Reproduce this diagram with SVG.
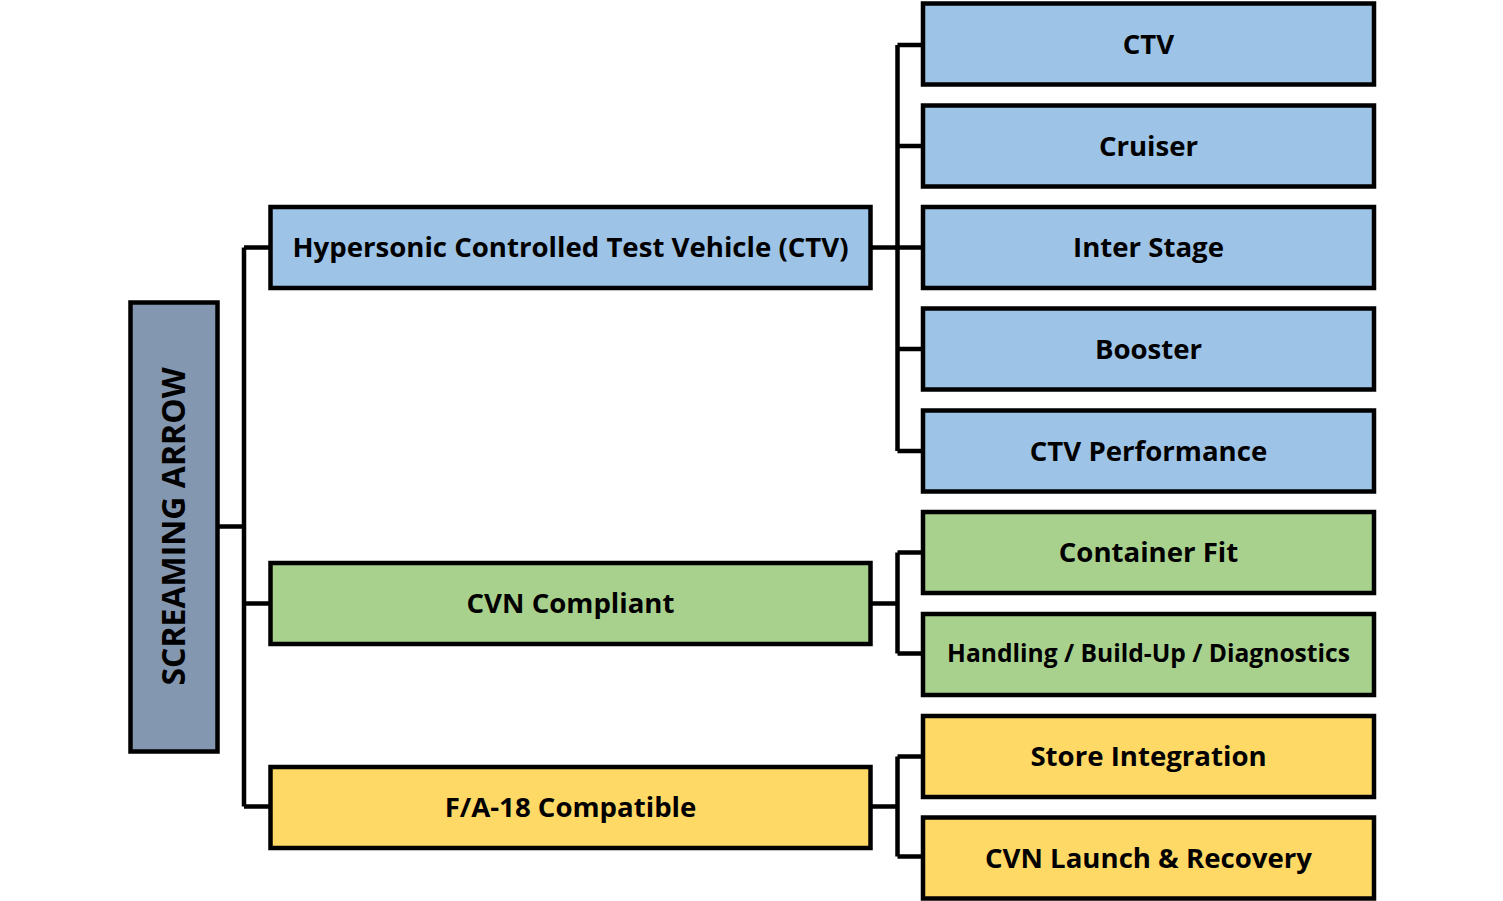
<svg xmlns="http://www.w3.org/2000/svg" width="1503" height="901" viewBox="0 0 1503 901">
<style>
.box{stroke:#000;stroke-width:4.5}
.b{fill:#9DC3E6}.g{fill:#A9D18E}.y{fill:#FFD966}.r{fill:#8497B0}
.t{font-family:"Open Sans","Liberation Sans",sans-serif;font-weight:bold;font-size:27.6px;fill:#000;text-anchor:middle;dominant-baseline:central}
.s{font-size:24.6px}
.rt{font-size:32px}
.c{fill:none;stroke:#000;stroke-width:4.5}
</style>
<rect width="1503" height="901" fill="#fff"/>
<g id="connectors">
<path class="c" d="M218 526.5H244M244 247.5V806.5M244 247.5H270M244 603.5H270M244 806.5H270"/>
<path class="c" d="M870 247.5H923M897.5 45V451M897.5 45H923M897.5 146H923M897.5 349H923M897.5 451H923"/>
<path class="c" d="M870 603.5H897.5M897.5 552.5V653.5M897.5 552.5H923M897.5 653.5H923"/>
<path class="c" d="M870 806.5H897.5M897.5 756.5V856.5M897.5 756.5H923M897.5 856.5H923"/>
</g>
<g id="root"><rect class="box r" x="130.5" y="302.5" width="87" height="449"/><text class="t rt" transform="translate(172.5 526.5) rotate(-90)">SCREAMING ARROW</text></g>
<g id="hctv"><rect class="box b" x="270.5" y="207" width="600" height="81"/><text class="t" x="570.5" y="246">Hypersonic Controlled Test Vehicle (CTV)</text></g>
<g id="cvn"><rect class="box g" x="270.5" y="563" width="600" height="81"/><text class="t" x="570.5" y="602">CVN Compliant</text></g>
<g id="fa18"><rect class="box y" x="270.5" y="767" width="600" height="81"/><text class="t" x="570.5" y="805.5">F/A-18 Compatible</text></g>
<g id="ctv"><rect class="box b" x="923" y="3.5" width="451" height="81"/><text class="t" x="1148.5" y="42.5">CTV</text></g>
<g id="cruiser"><rect class="box b" x="923" y="105.5" width="451" height="81"/><text class="t" x="1148.5" y="144.5">Cruiser</text></g>
<g id="interstage"><rect class="box b" x="923" y="207" width="451" height="81"/><text class="t" x="1148.5" y="246">Inter Stage</text></g>
<g id="booster"><rect class="box b" x="923" y="308.5" width="451" height="81"/><text class="t" x="1148.5" y="347.5">Booster</text></g>
<g id="ctvperf"><rect class="box b" x="923" y="410.5" width="451" height="81"/><text class="t" x="1148.5" y="449.5">CTV Performance</text></g>
<g id="container"><rect class="box g" x="923" y="512" width="451" height="81"/><text class="t" x="1148.5" y="551">Container Fit</text></g>
<g id="handling"><rect class="box g" x="923" y="614" width="451" height="81"/><text class="t s" x="1148.5" y="652.5">Handling / Build-Up / Diagnostics</text></g>
<g id="store"><rect class="box y" x="923" y="716" width="451" height="81"/><text class="t" x="1148.5" y="754.5">Store Integration</text></g>
<g id="launch"><rect class="box y" x="923" y="817.5" width="451" height="81"/><text class="t" x="1148.5" y="856.5">CVN Launch &amp; Recovery</text></g>
</svg>
